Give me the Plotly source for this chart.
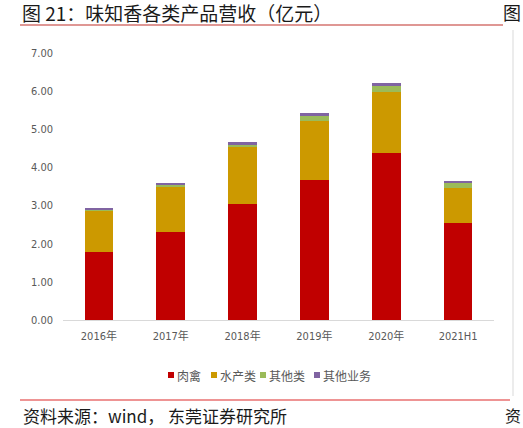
import plotly.graph_objects as go

categories = ["2016年", "2017年", "2018年", "2019年", "2020年", "2021H1"]
meat = [1.79, 2.30, 3.04, 3.66, 4.37, 2.54]
aquatic = [1.08, 1.20, 1.49, 1.55, 1.60, 0.93]
other_cat = [0.03, 0.04, 0.06, 0.13, 0.16, 0.12]
other_biz = [0.02, 0.06, 0.07, 0.09, 0.08, 0.06]

series_names = ["肉禽", "水产类", "其他类", "其他业务"]
series_values = [meat, aquatic, other_cat, other_biz]
series_colors = ["#C00000", "#CC9900", "#9BBB59", "#8064A2"]

W, H = 523, 428
ML, MR, MT, MB = 63, 29, 53, 108
PW, PH = W - ML - MR, H - MT - MB

def px(x):
    return (x - ML) / PW

def py(y):
    return (H - MB - y) / PH

fig = go.Figure()
for name, vals, color in zip(series_names, series_values, series_colors):
    fig.add_trace(go.Bar(x=categories, y=vals, name=name, showlegend=False,
                         marker=dict(color=color, line=dict(width=0))))

tick_font = dict(family="DejaVu Sans Condensed, Liberation Sans Narrow, Noto Sans CJK SC",
                 size=11, color="#595959")

annotations = [
    dict(text="图 21：味知香各类产品营收（亿元）", xref="paper", yref="paper", x=px(21), y=py(12.5),
         xanchor="left", yanchor="middle", showarrow=False, borderpad=0,
         font=dict(family="Noto Sans CJK SC", size=19, color="#1a1a1a")),
    dict(text="图", xref="paper", yref="paper", x=px(502), y=py(12.5),
         xanchor="left", yanchor="middle", showarrow=False, borderpad=0,
         font=dict(family="Noto Sans CJK SC", size=18, color="#1a1a1a")),
    dict(text="资料来源：wind， 东莞证券研究所", xref="paper", yref="paper", x=px(21), y=py(415),
         xanchor="left", yanchor="middle", showarrow=False,
         font=dict(family="Noto Sans CJK SC", size=17, color="#1a1a1a")),
    dict(text="资", xref="paper", yref="paper", x=px(503), y=py(415),
         xanchor="left", yanchor="middle", showarrow=False,
         font=dict(family="Noto Sans CJK SC", size=16, color="#1a1a1a")),
]

# compact legend: small colour square followed by the series name
legend_x = [168, 211, 260, 314]
shapes = []
for lx, name, color in zip(legend_x, series_names, series_colors):
    shapes.append(dict(type="rect", xref="paper", yref="paper",
                       x0=px(lx), x1=px(lx + 6), y0=py(378), y1=py(372),
                       fillcolor=color, line=dict(width=0)))
    annotations.append(dict(text=name, xref="paper", yref="paper", x=px(lx + 7), y=py(375),
                            xanchor="left", yanchor="middle", showarrow=False,
                            font=dict(family="Noto Sans CJK SC", size=12, color="#595959")))

shapes += [
    dict(type="line", xref="paper", yref="paper", x0=px(20), x1=px(503), y0=py(25), y1=py(25),
         line=dict(color="#C0302A", width=1.2)),
    dict(type="line", xref="paper", yref="paper", x0=px(20), x1=px(510), y0=py(400), y1=py(400),
         line=dict(color="#E87070", width=1.5)),
    dict(type="line", xref="paper", yref="paper", x0=px(513), x1=px(513), y0=py(30), y1=py(396),
         line=dict(color="#D9D9D9", width=1)),
]

fig.update_layout(
    width=W, height=H,
    margin=dict(l=ML, r=MR, t=MT, b=MB),
    paper_bgcolor="white", plot_bgcolor="white",
    barmode="stack", bargap=0.6,
    showlegend=False,
    xaxis=dict(showline=True, linecolor="#D9D9D9", linewidth=1, ticks="", tickfont=tick_font,
               showgrid=False, zeroline=False, ticklabelstandoff=6),
    yaxis=dict(range=[0, 7], dtick=1, tickformat=".2f", showline=False, showgrid=False,
               zeroline=False, ticks="", tickfont=tick_font, ticklabelstandoff=9),
    shapes=shapes,
    annotations=annotations,
)

fig.write_html("out.html", config={"displayModeBar": False},
               post_script="document.body.style.margin='0';document.body.style.overflow='hidden';")
